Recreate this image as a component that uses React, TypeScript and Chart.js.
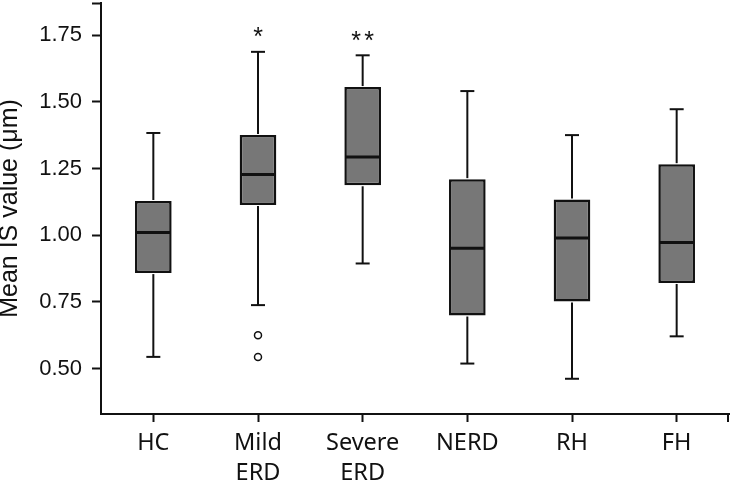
import React, { useEffect, useRef } from "react";
import { Chart, registerables } from "chart.js";

Chart.register(...registerables);

// ---- data ----
const categories: string[][] = [["HC"], ["Mild", "ERD"], ["Severe", "ERD"], ["NERD"], ["RH"], ["FH"]];
const whiskerLow = [0.544, 0.738, 0.894, 0.519, 0.462, 0.621];
const q1 = [0.858, 1.113, 1.187, 0.699, 0.752, 0.821];
const median = [1.01, 1.227, 1.293, 0.951, 0.989, 0.973];
const q3 = [1.128, 1.375, 1.555, 1.21, 1.134, 1.266];
const whiskerHigh = [1.383, 1.687, 1.674, 1.54, 1.375, 1.472];
const outlierCategory = [1, 1];
const outlierValues = [0.625, 0.544];
const significance = ["", "*", "**", "", "", ""];
const yTicks = [0.5, 0.75, 1.0, 1.25, 1.5, 1.75];
const yMin = 0.33;
const yMax = 1.87;

const INK = "#111111";

const boxPlugin = {
  id: "boxExtras",
  afterDatasetsDraw(chart: any) {
    const ctx = chart.ctx as CanvasRenderingContext2D;
    const meta = chart.getDatasetMeta(0);
    const ys = chart.scales.y;
    const line = (x1: number, y1: number, x2: number, y2: number) => {
      ctx.beginPath();
      ctx.moveTo(x1, y1);
      ctx.lineTo(x2, y2);
      ctx.stroke();
    };
    ctx.save();
    ctx.strokeStyle = INK;
    ctx.lineCap = "butt";
    meta.data.forEach((bar: any, i: number) => {
      const x = bar.x;
      const w = bar.width;
      const yQ1 = ys.getPixelForValue(q1[i]);
      const yQ3 = ys.getPixelForValue(q3[i]);
      const yLo = ys.getPixelForValue(whiskerLow[i]);
      const yHi = ys.getPixelForValue(whiskerHigh[i]);
      const yMed = ys.getPixelForValue(median[i]);
      ctx.lineWidth = 2;
      line(x, yQ3 - 1, x, yHi);
      line(x, yQ1 + 1, x, yLo);
      line(x - 7, yHi, x + 7, yHi);
      line(x - 7, yLo, x + 7, yLo);
      ctx.lineWidth = 3;
      line(x - w / 2 + 1, yMed, x + w / 2 - 1, yMed);
      const sig = significance[i];
      if (sig) {
        ctx.fillStyle = INK;
        ctx.font = "25px 'Liberation Sans', Arial, sans-serif";
        ctx.textAlign = "center";
        ctx.textBaseline = "alphabetic";
        const n = sig.length;
        const step = 13;
        for (let k = 0; k < n; k++) {
          const cx = x + (k - (n - 1) / 2) * step;
          ctx.fillText("*", cx, yHi - 6.5);
        }
      }
    });
    // closing tick at the right end of the x axis
    const area = chart.chartArea;
    ctx.lineWidth = 2;
    line(area.right - 1, area.bottom, area.right - 1, area.bottom + 8);
    ctx.restore();
  },
};

export default function App() {
  const ref = useRef<HTMLCanvasElement | null>(null);

  useEffect(() => {
    if (!ref.current) return;
    const chart = new Chart(ref.current, {
      type: "bar",
      data: {
        labels: categories as any,
        datasets: [
          {
            type: "bar",
            label: "IQR",
            data: q1.map((v, i) => [v, q3[i]]) as any,
            backgroundColor: "#777777",
            borderColor: INK,
            borderWidth: 2.5,
            borderSkipped: false,
            barPercentage: 0.35,
            categoryPercentage: 1,
          },
          {
            type: "line",
            label: "outliers",
            parsing: false,
            data: outlierCategory.map((c, i) => ({ x: c, y: outlierValues[i] })) as any,
            showLine: false,
            pointStyle: "circle",
            pointRadius: 3.5,
            pointBackgroundColor: "#ffffff",
            pointBorderColor: INK,
            pointBorderWidth: 1.5,
          },
        ],
      },
      options: {
        animation: false,
        responsive: false,
        devicePixelRatio: 1,
        layout: { autoPadding: false, padding: { top: 3, right: 2, left: 0, bottom: 0 } },
        plugins: {
          legend: { display: false },
          tooltip: { enabled: false },
        },
        scales: {
          x: {
            type: "category",
            offset: true,
            grid: {
              display: true,
              offset: false,
              drawOnChartArea: false,
              drawTicks: true,
              tickLength: 8,
              tickWidth: 2,
              tickColor: INK,
              color: INK,
            },
            border: { display: true, color: INK, width: 2 },
            ticks: {
              color: INK,
              padding: 6,
              maxRotation: 0,
              autoSkip: false,
              font: { family: "'Noto Sans', sans-serif", size: 23.5, lineHeight: 1.28 },
            },
            afterFit(scale: any) {
              scale.height = 67;
              scale.paddingLeft = 0;
              scale.paddingRight = 0;
            },
          },
          y: {
            type: "linear",
            min: yMin,
            max: yMax,
            grid: {
              display: true,
              drawOnChartArea: false,
              drawTicks: true,
              tickLength: 9,
              tickWidth: 2,
              tickColor: INK,
              color: INK,
            },
            border: { display: true, color: INK, width: 2 },
            ticks: {
              color: INK,
              padding: 10,
              font: { family: "'Liberation Sans', Arial, sans-serif", size: 22 },
              callback: (v: any) => (yTicks.some((t) => Math.abs(t - Number(v)) < 1e-6) ? Number(v).toFixed(2) : ""),
            },
            afterBuildTicks(scale: any) {
              scale.ticks = [...yTicks, yMax].map((v) => ({ value: v }));
            },
            afterFit(scale: any) {
              scale.width = 101;
              scale.paddingTop = 0;
              scale.paddingBottom = 0;
            },
            title: {
              display: true,
              text: "Mean IS value (μm)",
              color: INK,
              font: { family: "'Liberation Sans', Arial, sans-serif", size: 25, lineHeight: 1 },
              padding: { top: -2, bottom: 0 },
            },
          },
        },
      },
      plugins: [boxPlugin],
    });
    return () => chart.destroy();
  }, []);

  return (
    <div style={{ position: "fixed", left: 0, top: 0, width: 731, height: 481, background: "#ffffff" }}>
      <canvas ref={ref} width={731} height={481} style={{ display: "block" }} />
    </div>
  );
}
